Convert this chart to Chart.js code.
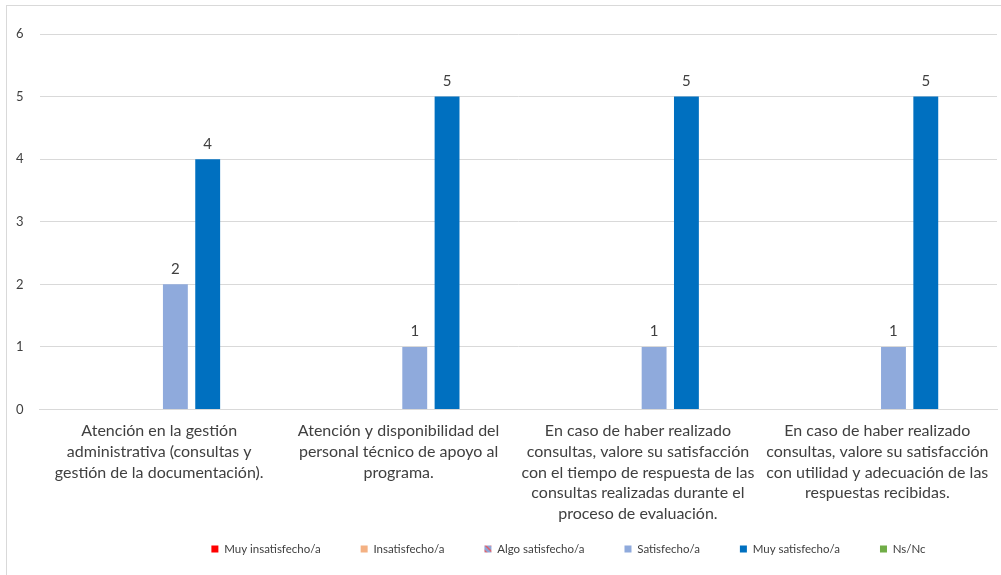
<!DOCTYPE html>
<html>
<head>
<meta charset="utf-8">
<script src="https://cdn.jsdelivr.net/npm/chart.js@4.4.1/dist/chart.umd.min.js"></script>
<style>
html,body{margin:0;padding:0;background:#fff;}
#wrap{position:relative;width:1001px;height:575px;}
</style>
</head>
<body>
<div id="wrap"><canvas id="c"></canvas></div>
<script>
const categories = [
  ["Atención en la gestión", "administrativa (consultas y", "gestión de la documentación)."],
  ["Atención y disponibilidad del", "personal técnico de apoyo al", "programa."],
  ["En caso de haber realizado", "consultas, valore su satisfacción", "con el tiempo de respuesta de las", "consultas realizadas durante el", "proceso de evaluación."],
  ["En caso de haber realizado", "consultas, valore su satisfacción", "con utilidad y adecuación de las", "respuestas recibidas."]
];
const seriesNames = ["Muy insatisfecho/a", "Insatisfecho/a", "Algo satisfecho/a", "Satisfecho/a", "Muy satisfecho/a", "Ns/Nc"];
const muyInsatisfecho = [null, null, null, null];
const insatisfecho = [null, null, null, null];
const algoSatisfecho = [null, null, null, null];
const satisfecho = [2, 1, 1, 1];
const muySatisfecho = [4, 5, 5, 5];
const nsNc = [null, null, null, null];
const yTicks = [0, 1, 2, 3, 4, 5, 6];

function makePattern() {
  const p = document.createElement('canvas');
  p.width = 6; p.height = 6;
  const g = p.getContext('2d');
  g.fillStyle = '#8FA5D6';
  g.fillRect(0, 0, 6, 6);
  g.strokeStyle = '#E0606A';
  g.lineWidth = 1.5;
  g.beginPath();
  g.moveTo(0, 0); g.lineTo(6, 6);
  g.moveTo(-3, 3); g.lineTo(3, 9);
  g.moveTo(3, -3); g.lineTo(9, 3);
  g.stroke();
  return document.getElementById('c').getContext('2d').createPattern(p, 'repeat');
}

const colors = ['#FF0000', '#F4B183', makePattern(), '#8FAADC', '#0070C0', '#70AD47'];
const values = [muyInsatisfecho, insatisfecho, algoSatisfecho, satisfecho, muySatisfecho, nsNc];
const FONT = 'Lato, "Open Sans", sans-serif';

const bgPlugin = {
  id: 'bg',
  beforeDraw(chart) {
    const ctx = chart.ctx;
    ctx.save();
    ctx.fillStyle = '#fff';
    ctx.fillRect(0, 0, chart.width, chart.height);
    ctx.strokeStyle = '#D9D9D9';
    ctx.lineWidth = 1;
    ctx.strokeRect(6.5, 5.5, 1100, 700);
    ctx.restore();
  }
};

const legendShift = {
  id: 'legendShift',
  afterLayout(chart) {
    const lg = chart.legend;
    if (!lg) return;
    const target = 549;
    const cur = lg.top + 40 + 5.75;
    const d = cur - target;
    lg.top -= d;
    lg.bottom -= d;
    lg.left += 70;
    lg.right += 70;
  }
};

const labelPlugin = {
  id: 'vals',
  afterDatasetsDraw(chart) {
    const ctx = chart.ctx;
    ctx.save();
    ctx.font = '15px ' + FONT;
    ctx.fillStyle = '#404040';
    ctx.textAlign = 'center';
    ctx.textBaseline = 'bottom';
    chart.data.datasets.forEach((ds, i) => {
      const meta = chart.getDatasetMeta(i);
      meta.data.forEach((bar, j) => {
        const v = ds.data[j];
        if (v === null || v === undefined) return;
        ctx.fillText(String(v), bar.x, bar.y - 8);
      });
    });
    ctx.restore();
  }
};

new Chart(document.getElementById('c'), {
  type: 'bar',
  data: {
    labels: categories,
    datasets: seriesNames.map((n, i) => ({
      label: n,
      data: values[i],
      backgroundColor: colors[i],
      borderWidth: 0,
      categoryPercentage: 0.81,
      barPercentage: 0.77
    }))
  },
  options: {
    responsive: true,
    maintainAspectRatio: false,
    animation: false,
    layout: { padding: { top: 34, left: 0, right: 4, bottom: -14 } },
    plugins: {
      tooltip: { enabled: false },
      legend: {
        position: 'bottom',
        labels: {
          boxWidth: 7,
          boxHeight: 7,
          padding: 40,
          color: '#404040',
          font: { size: 11.5, family: FONT }
        }
      }
    },
    scales: {
      x: {
        grid: { display: false },
        border: { color: '#D9D9D9' },
        ticks: {
          color: '#404040',
          font: { size: 16, family: FONT, lineHeight: 1.3 },
          maxRotation: 0,
          autoSkip: false,
          padding: 3
        }
      },
      y: {
        min: 0,
        max: 6,
        afterBuildTicks(axis) { axis.ticks = yTicks.map(v => ({ value: v })); },
        grid: { color: '#D9D9D9', drawTicks: false },
        border: { display: false },
        ticks: {
          color: '#404040',
          font: { size: 13, family: FONT },
          padding: 16
        }
      }
    }
  },
  plugins: [bgPlugin, legendShift, labelPlugin]
});
</script>
</body>
</html>
